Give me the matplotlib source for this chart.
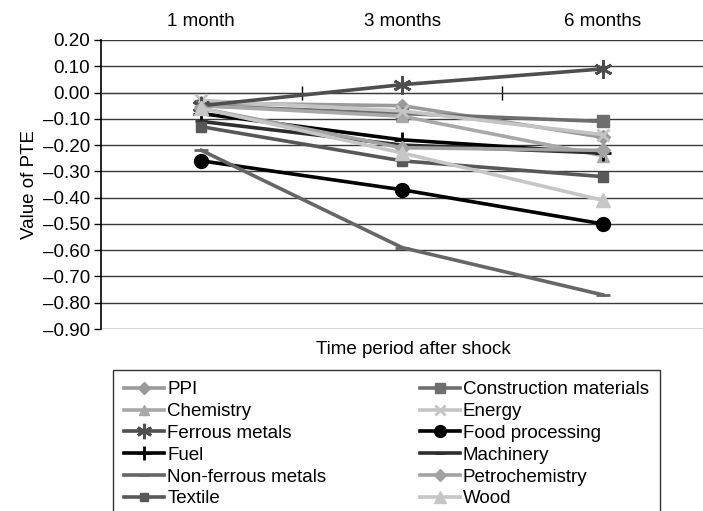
import matplotlib
matplotlib.use('Agg')
import matplotlib.pyplot as plt

plt.rcParams['font.family'] = ['Liberation Sans', 'DejaVu Sans']
FS = 13.5

periods = ['1 month', '3 months', '6 months']

ppi = [-0.04, -0.05, -0.17]
construction = [-0.05, -0.08, -0.11]
chemistry = [-0.05, -0.09, -0.24]
energy = [-0.03, -0.07, -0.16]
ferrous = [-0.05, 0.03, 0.09]
food = [-0.26, -0.37, -0.50]
fuel = [-0.08, -0.18, -0.23]
machinery = [-0.11, -0.20, -0.23]
nonferrous = [-0.22, -0.59, -0.77]
petrochem = [-0.06, -0.21, -0.22]
textile = [-0.13, -0.26, -0.32]
wood = [-0.06, -0.23, -0.41]

# name, values, colour, marker, marker size
series = [
    ('PPI', ppi, '#9a9a9a', 'D', 7),
    ('Construction materials', construction, '#6e6e6e', 's', 8),
    ('Chemistry', chemistry, '#a8a8a8', '^', 9),
    ('Energy', energy, '#c4c4c4', 'x', 9),
    ('Ferrous metals', ferrous, '#4e4e4e', (6, 2, 0), 13),
    ('Food processing', food, '#000000', 'o', 10),
    ('Fuel', fuel, '#000000', '+', 12),
    ('Machinery', machinery, '#2e2e2e', '_', 8),
    ('Non-ferrous metals', nonferrous, '#666666', '_', 10),
    ('Petrochemistry', petrochem, '#a2a2a2', 'D', 7),
    ('Textile', textile, '#585858', 's', 7),
    ('Wood', wood, '#c6c6c6', '^', 10),
]

fig = plt.figure(figsize=(7.03, 5.11), dpi=100)
ax = fig.add_axes([101/703, 1 - 329/511, 602/703, 289/511])

x = list(range(len(periods)))
handles = {}
for name, vals, col, mk, ms in series:
    h, = ax.plot(x, vals, color=col, lw=2.6, marker=mk, ms=ms,
                 mew=2 if mk in ('x', '+', '_', (6, 2, 0)) else 1,
                 mec=col, mfc=col, label=name, zorder=3)
    handles[name] = h

ax.set_xlim(-0.5, 2.5)
ax.set_ylim(-0.90, 0.20)
ax.set_yticks([0.20 - 0.1 * i for i in range(12)])
ax.yaxis.set_major_formatter(matplotlib.ticker.FuncFormatter(
    lambda v, p: ('%.2f' % v).replace('-', '\u2013') if abs(v) > 1e-9 else '0.00'))
ax.tick_params(axis='y', labelsize=FS, length=5, width=1, pad=3)
ax.yaxis.grid(True, color='#3a3a3a', lw=1)
ax.set_axisbelow(True)

ax.spines['right'].set_visible(False)
ax.spines['top'].set_visible(False)
ax.spines['left'].set_linewidth(1.2)
ax.spines['bottom'].set_position(('data', 0))
ax.spines['bottom'].set_color('#3a3a3a')
ax.set_xticks([])
ax.set_xticks([0.5, 1.5], minor=True)
ax.tick_params(axis='x', which='minor', direction='inout', length=10, width=1, labelbottom=False)

top = ax.secondary_xaxis('top')
top.set_xticks(x)
top.set_xticklabels(periods)
top.tick_params(length=0, labelsize=FS, pad=7)
top.spines['top'].set_visible(False)

ax.set_ylabel('Value of PTE', fontsize=FS, labelpad=3)
fig.text(413/703, 1 - 349/511, 'Time period after shock', ha='center', va='center', fontsize=FS)

order = ['PPI', 'Chemistry', 'Ferrous metals', 'Fuel', 'Non-ferrous metals', 'Textile',
         'Construction materials', 'Energy', 'Food processing', 'Machinery', 'Petrochemistry', 'Wood']
leg = fig.legend([handles[n] for n in order], order, ncol=2, loc='upper left',
                 bbox_to_anchor=(113/703, 1 - 370/511), fontsize=FS, frameon=True,
                 fancybox=False, edgecolor='black', handlelength=2.13, handletextpad=0.16,
                 labelspacing=0.25, columnspacing=5.0, borderpad=0.6, borderaxespad=0)
leg.get_frame().set_linewidth(1)
for lh in leg.legend_handles:
    lh.set_markersize(lh.get_markersize() * 0.85)

fig.savefig('out.png', dpi=100)
